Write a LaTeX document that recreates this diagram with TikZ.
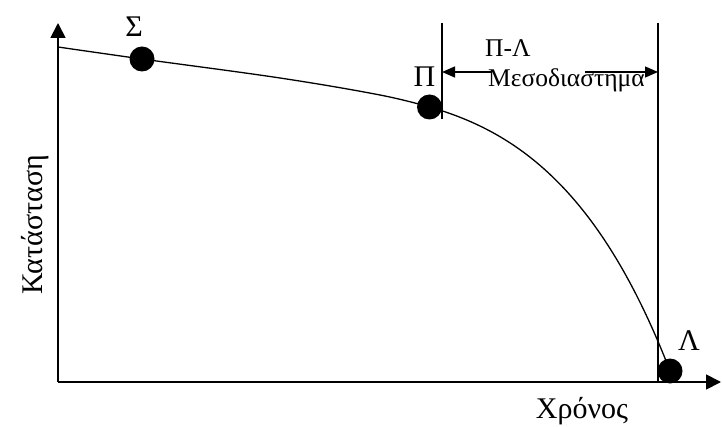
\documentclass[tikz,border=0pt]{standalone}
\usepackage{fontspec}
\setmainfont{Liberation Serif}
\usetikzlibrary{arrows.meta}

\begin{document}
\begin{tikzpicture}[x=1pt,y=-1pt,
  ax/.style={line width=1.8pt,-{Triangle[length=15pt,width=15pt]}},
  dim/.style={line width=1.3pt,-{Triangle[length=13pt,width=11pt]}},
  mark line/.style={line width=1.3pt},
  dot/.style={circle,fill=black,inner sep=0pt,minimum size=25pt},
  lbl/.style={inner sep=0pt,anchor=base,font=\fontsize{30}{36}\selectfont},
  small/.style={inner sep=0pt,anchor=base west,font=\fontsize{25.5}{30}\selectfont}]
\useasboundingbox (0,0) rectangle (722,427);
% axes
\coordinate (O) at (58,382);
\coordinate (ytop) at (58,23);
\coordinate (xend) at (721,382);
\draw[ax] (O) -- (ytop);
\draw[ax] (O) -- (xend);
% P and F lines
\coordinate (Pt) at (442,23);
\coordinate (Pb) at (442,119);
\coordinate (Ft) at (658,23);
\coordinate (Fb) at (658,382);
\draw[mark line] (Pt) -- (Pb);
\draw[mark line] (Ft) -- (Fb);
% curve and points
\node[dot] (S) at (142,59) {};
\node[dot] (P) at (429.5,107) {};
\node[dot] (F) at (670,371) {};
\coordinate (C0) at (58,47);
\draw[line width=1.3pt] plot[smooth,tension=0.6] coordinates {(C0) (S.center) (280,78)
  (380,95) (P.center)};
\draw[line width=1.3pt] (P.center) .. controls (517,132) and (600,190) .. (F.center);
\node[lbl] (Slbl) at (134,37) {Σ};
\node[lbl] (Plbl) at (424.5,87) {Π};
\node[lbl] (Flbl) at (689,350) {Λ};
% interval
\node[small] (PF) at (485,57) {Π-Λ};
\node[small] (Int) at (488,87) {Μεσοδιαστημα};
\coordinate (dl) at (492,72);
\coordinate (dr) at (585,72);
\draw[dim] (dl) -- (Pb |- dl);
\draw[dim] (dr) -- (Fb |- dr);
% axis labels
\node[lbl] (tlbl) at (582,418) {Χρόνος};
\node[lbl,rotate=90] (clbl) at (42,225) {Κατάσταση};
\end{tikzpicture}
\end{document}
